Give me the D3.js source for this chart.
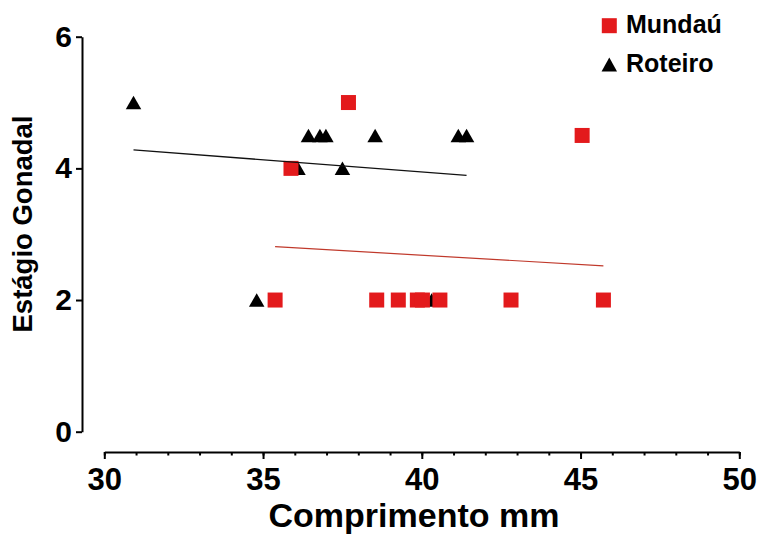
<!DOCTYPE html>
<html>
<head>
<meta charset="utf-8">
<script src="https://cdn.jsdelivr.net/npm/d3@7"></script>
<style>
  body { margin: 0; background: #fff; }
  text { font-family: "Liberation Sans", Arial, sans-serif; font-weight: bold; fill: #000; }
</style>
</head>
<body>
<div id="wrapper"></div>
<script>
// data
const mundauX = [35.38, 38.58, 39.26, 39.86, 40.02, 40.57, 42.81, 45.72, 35.88, 37.69, 45.05]
const mundauY = [2, 2, 2, 2, 2, 2, 2, 2, 4, 5, 4.5]
const roteiroX = [30.92, 36.43, 36.79, 36.98, 38.53, 41.15, 41.41, 36.1, 37.5, 34.8, 40.31]
const roteiroY = [5, 4.5, 4.5, 4.5, 4.5, 4.5, 4.5, 4, 4, 2, 2]
// fitted lines (end points)
const fitMundauX = [35.38, 45.72]
const fitMundauY = [2.81, 2.52]
const fitRoteiroX = [30.92, 41.41]
const fitRoteiroY = [4.28, 3.895]
const xTicks = [30, 35, 40, 45, 50]
const xMinorTicks = d3.range(30, 51, 1)
const yTicks = [0, 2, 4, 6]
const seriesNames = ["Mundaú", "Roteiro"]

const width = 759
let dimensions = {
    width: width,
    height: 535,
    margin: {
        top: 36.7,
        right: 19.7,
        bottom: 103.3,
        left: 104.3,
    },
}
dimensions.boundedWidth = dimensions.width
    - dimensions.margin.left
    - dimensions.margin.right
dimensions.boundedHeight = dimensions.height
    - dimensions.margin.top
    - dimensions.margin.bottom

const red = "#e31a1c"

const svg = d3.select("#wrapper")
    .append("svg")
    .attr("width", dimensions.width)
    .attr("height", dimensions.height)
    .style("display", "block")

const xScale = d3.scaleLinear()
    .domain([30, 50])
    .range([dimensions.margin.left, dimensions.margin.left + dimensions.boundedWidth])

const yScale = d3.scaleLinear()
    .domain([0, 6])
    .range([431.7, 36.7])

function drawAxes() {
    const yAxis = d3.axisLeft(yScale)
        .tickValues(yTicks)
        .tickFormat(d3.format("d"))
        .tickSize(6)
        .tickSizeOuter(0)
        .tickPadding(4)
    const yg = svg.append("g")
        .attr("transform", "translate(82,0)")
        .call(yAxis)
    yg.selectAll("path, line").attr("stroke", "#000").attr("stroke-width", 2)
    yg.selectAll("text").style("font-size", "30px").attr("fill", "#000")

    const xAxisY = 452
    const xMinor = d3.axisBottom(xScale)
        .tickValues(xMinorTicks)
        .tickSize(3.5)
        .tickSizeOuter(0)
        .tickFormat("")
    const xmg = svg.append("g")
        .attr("transform", `translate(0,${xAxisY})`)
        .call(xMinor)
    xmg.selectAll("path, line").attr("stroke", "#000").attr("stroke-width", 2)

    const xAxis = d3.axisBottom(xScale)
        .tickValues(xTicks)
        .tickFormat(d3.format("d"))
        .tickSize(7)
        .tickSizeOuter(0)
        .tickPadding(9)
    const xg = svg.append("g")
        .attr("transform", `translate(0,${xAxisY})`)
        .call(xAxis)
    xg.select(".domain").remove()
    xg.selectAll("line").attr("stroke", "#000").attr("stroke-width", 2)
    xg.selectAll("text").style("font-size", "31px").attr("fill", "#000")

    svg.append("text")
        .attr("x", 414)
        .attr("y", 527)
        .attr("text-anchor", "middle")
        .style("font-size", "34px")
        .text("Comprimento mm")

    svg.append("text")
        .attr("transform", "translate(32,224) rotate(-90)")
        .attr("text-anchor", "middle")
        .style("font-size", "27.5px")
        .text("Estágio Gonadal")
}

function trianglePath(w, h) {
    return `M0,${-h / 2}L${w / 2},${h / 2}L${-w / 2},${h / 2}Z`
}

function drawPoints() {
    const roteiro = roteiroX.map((x, i) => ({ x: x, y: roteiroY[i] }))
    const mundau = mundauX.map((x, i) => ({ x: x, y: mundauY[i] }))

    svg.append("g")
        .selectAll("path")
        .data(roteiro)
        .enter()
        .append("path")
        .attr("d", trianglePath(15.5, 13.5))
        .attr("transform", d => `translate(${xScale(d.x)},${yScale(d.y)})`)
        .attr("fill", "#000")

    const sq = 15
    svg.append("g")
        .selectAll("rect")
        .data(mundau)
        .enter()
        .append("rect")
        .attr("x", d => xScale(d.x) - sq / 2)
        .attr("y", d => yScale(d.y) - sq / 2)
        .attr("width", sq)
        .attr("height", sq)
        .attr("fill", red)

    const line = d3.line()
        .x(d => xScale(d.x))
        .y(d => yScale(d.y))

    svg.append("path")
        .datum(fitRoteiroX.map((x, i) => ({ x: x, y: fitRoteiroY[i] })))
        .attr("fill", "none")
        .attr("stroke", "#111")
        .attr("stroke-width", 1.3)
        .attr("d", line)

    svg.append("path")
        .datum(fitMundauX.map((x, i) => ({ x: x, y: fitMundauY[i] })))
        .attr("fill", "none")
        .attr("stroke", "#c0392b")
        .attr("stroke-width", 1.2)
        .attr("d", line)
}

function drawLegend() {
    const legend = svg.append("g")
    const rows = legend.selectAll("g")
        .data(seriesNames)
        .enter()
        .append("g")
        .attr("transform", (d, i) => `translate(609.3,${i === 0 ? 25.7 : 64.5})`)

    rows.filter((d, i) => i === 0)
        .append("rect")
        .attr("x", -7.5).attr("y", -7.5)
        .attr("width", 15).attr("height", 15)
        .attr("fill", red)
    rows.filter((d, i) => i === 1)
        .append("path")
        .attr("d", trianglePath(15.5, 14))
        .attr("fill", "#000")

    rows.append("text")
        .attr("x", 16.7)
        .attr("y", (d, i) => i === 0 ? 7.6 : 7.2)
        .style("font-size", "25px")
        .text(d => d)
}

drawAxes()
drawPoints()
drawLegend()
</script>
</body>
</html>
